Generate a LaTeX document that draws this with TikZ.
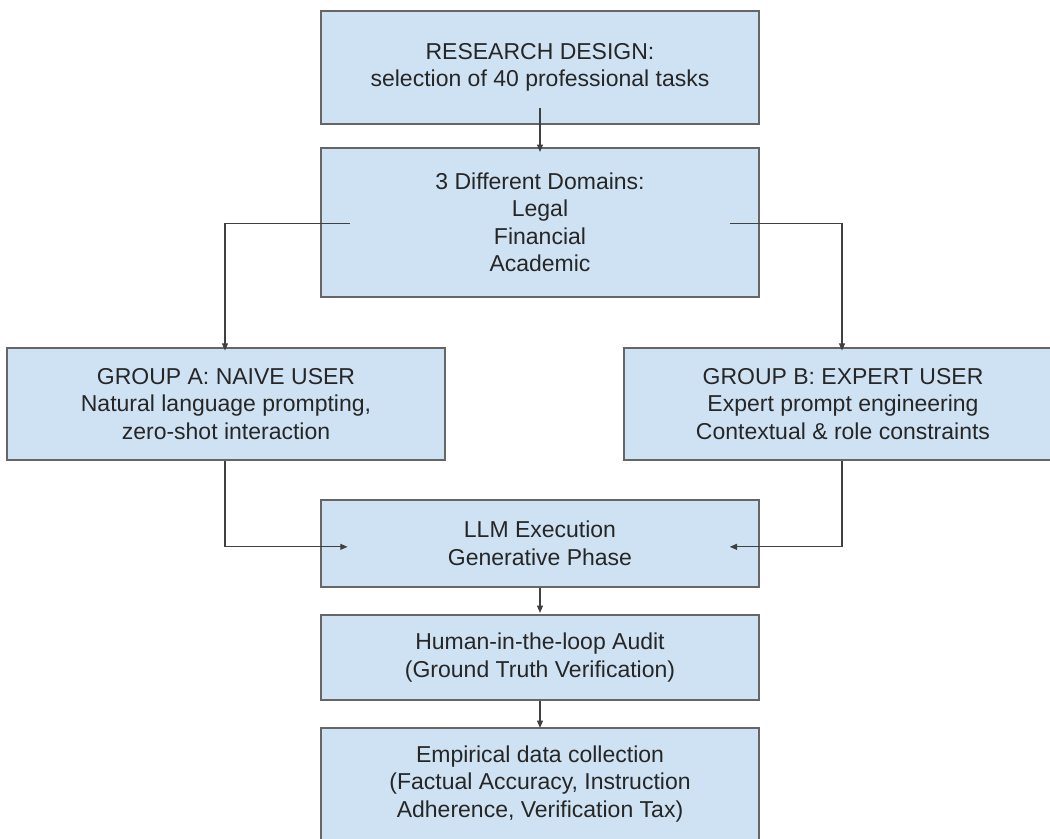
\documentclass[tikz,border=0pt]{standalone}
\usepackage{fontspec}
\setmainfont{Liberation Sans}
\usetikzlibrary{arrows.meta,calc}
\definecolor{boxfill}{HTML}{CFE2F3}
\definecolor{boxline}{HTML}{666666}
\definecolor{wire}{HTML}{404040}
\definecolor{ink}{HTML}{262626}
\begin{document}
\begin{tikzpicture}[x=0.75pt,y=-0.75pt,
  stagebox/.style={draw=boxline, line width=1.1pt, fill=boxfill, minimum width=328.5pt,
    inner sep=0pt, align=center, text=ink, font=\fontsize{17.25}{20.6}\selectfont},
  link/.style={draw=wire, line width=0.9pt, -{Triangle[length=5.5pt,width=4.5pt]}}]
\useasboundingbox[fill=white] (0,0) rectangle (1050,839);
\node[stagebox, minimum height=84.75pt] (design) at (540,67.5)
  {RESEARCH DESIGN:\\selection of 40 professional tasks};
\node[stagebox, minimum height=111.75pt] (domains) at (540,222.5)
  {3 Different Domains:\\Legal\\Financial\\Academic};
\node[stagebox, minimum height=84pt] (groupa) at (226,404)
  {GROUP A: NAIVE USER\\Natural language prompting,\\zero-shot interaction};
\node[stagebox, minimum height=84pt] (groupb) at (843,404)
  {GROUP B: EXPERT USER\\Expert prompt engineering\\Contextual \& role constraints};
\node[stagebox, minimum height=65.25pt] (llm) at (540,543.5)
  {LLM Execution\\Generative Phase};
\node[stagebox, minimum height=63.75pt] (audit) at (540,657.5)
  {Human-in-the-loop Audit\\(Ground Truth Verification)};
\node[stagebox, minimum height=84pt] (data) at (540,784)
  {Empirical data collection\\(Factual Accuracy, Instruction\\Adherence, Verification Tax)};

\draw[link] ([yshift=12.75pt]design.south) -- ([yshift=-3.5pt]domains.north);
\draw[link] ([xshift=22pt,yshift=-1pt]domains.west) -| ([xshift=-0.75pt,yshift=-2.5pt]groupa.north);
\draw[link] ([xshift=-22.5pt,yshift=-1pt]domains.east) -| ([xshift=-0.75pt,yshift=-2.5pt]groupb.north);
\draw[link] ([xshift=-0.75pt]groupa.south) |- ([xshift=20.5pt,yshift=-2.5pt]llm.west);
\draw[link] ([xshift=-0.75pt]groupb.south) |- ([xshift=-22.5pt,yshift=-2.5pt]llm.east);
\draw[link] (llm.south) -- ([yshift=1pt]audit.north);
\draw[link] (audit.south) -- ([yshift=-0.5pt]data.north);
\end{tikzpicture}
\end{document}
